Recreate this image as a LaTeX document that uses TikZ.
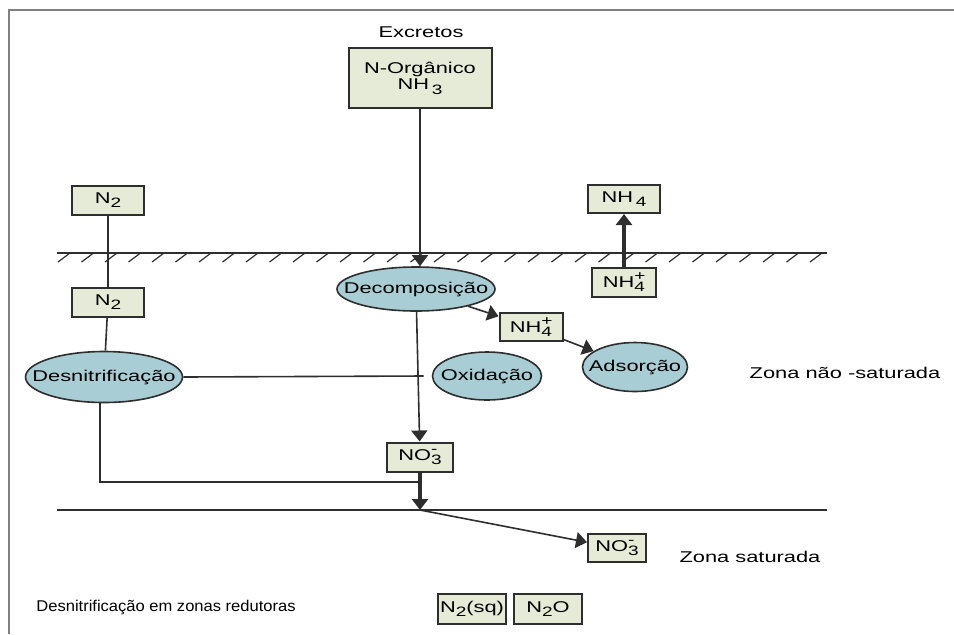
\documentclass[tikz,border=0pt]{standalone}
\usepackage{fontspec}
\setmainfont{Liberation Sans}[FakeStretch=1.4]
\newfontfamily\narrowsans{Liberation Sans}[FakeStretch=1.06]
\usetikzlibrary{arrows.meta,shapes.geometric}

\definecolor{boxfill}{HTML}{E5EBD7}
\definecolor{ellfill}{HTML}{A9CDD4}
\definecolor{edge}{HTML}{2E2E2E}

\newcommand\subfont{\fontsize{6.8}{7}\selectfont}
\newcommand\lowix[1]{\raisebox{-0.5ex}{\subfont #1}}
\newcommand\ionix[2]{\rlap{\raisebox{0.8ex}{\subfont #2}}\raisebox{-0.5ex}{\subfont #1}}

\tikzset{
  species/.style={draw=edge, line width=1pt, fill=boxfill, inner sep=0pt, minimum width=36pt, minimum height=14.5pt},
  process/.style={ellipse, draw=edge, line width=0.8pt, fill=ellfill, inner sep=0pt},
  flow/.style={draw=edge, line width=0.8pt},
  arr/.style={flow, -{Triangle[length=5.5pt,width=8pt]}},
  bigarr/.style={draw=edge, line width=1.7pt, -{Triangle[length=5.5pt,width=8pt]}},
}

\begin{document}
\begin{tikzpicture}[x=0.5pt, y=-0.5pt, font=\fontsize{7.8}{9.4}\selectfont]
\useasboundingbox (0,0) rectangle (954,634);

% frame
\draw[gray, line width=1pt] (9,634) -- (9,10) -- (954,10);

% soil surface and water table
\draw[flow] (57,253) -- (827,253);
\foreach \x in {58,81.5,...,815}
	\draw[flow, line width=0.6pt] (\x,262) -- ++(12,-9);
\draw[flow] (57,510) -- (827,510);

% labels
\node (excretos) at (421,32) {Excretos};
\node (zns) at (845,373) {Zona não -saturada};
\node (zs) at (750,557) {Zona saturada};
\node[font=\narrowsans\fontsize{7.8}{9.4}\selectfont] (redut) at (166,607) {Desnitrificação em zonas redutoras};

% species
\node[species, minimum width=71.5pt, minimum height=30pt, align=center] (org) at (420,78) {N-Orgânico\\[-1pt]NH\,\lowix{3}};
\node[species] (ntop) at (108,200) {N\lowix{2}};
\node[species] (nmid) at (108,302) {N\lowix{2}};
\node[species, minimum height=14pt] (nhtop) at (624,199) {NH\,\lowix{4}};
\node[species, minimum width=32pt] (nhup) at (624,282) {NH\ionix{4}{+}};
\node[species, minimum width=31.5pt, minimum height=14pt] (nhmid) at (531,327) {NH\ionix{4}{+}};
\node[species, minimum width=33pt] (nothree) at (420,457) {NO\ionix{3}{-}};
\node[species, minimum width=29pt, minimum height=14pt] (nolow) at (617,548) {NO\ionix{3}{-}};
\node[species, minimum width=34pt, minimum height=15pt] (nsq) at (472,609) {N\lowix{2}(sq)};
\node[species, minimum width=34pt, minimum height=15pt] (nno) at (548,609) {N\lowix{2}O};

% processes
\node[process, minimum width=78.5pt, minimum height=25.5pt] (desn) at (104,377) {\makebox[0pt]{Desnitrificação}};
\node[process, minimum width=79pt, minimum height=22pt] (decomp) at (416,289) {\makebox[0pt]{Decomposição}};
\node[process, minimum width=54.5pt, minimum height=24pt] (oxid) at (487,376) {\makebox[0pt]{Oxidação}};
\node[process, minimum width=52.5pt, minimum height=24.5pt] (adsor) at (635,367) {\makebox[0pt]{Adsorção}};

\coordinate (merge) at (420,482);
\coordinate (junc) at (420,510);

% connectors
\draw[arr] (org.south) -- (org.south |- decomp.north);
\draw[flow] (ntop) -- (nmid);
\draw[flow] (nmid) -- (desn);
\draw[flow] (desn.east) -- ([xshift=-4pt]oxid.west);
\draw[arr] (decomp) -- (nhmid);
\draw[arr] (nhmid) -- (adsor);
\draw[arr] (decomp) -- (nothree);
\draw[bigarr] (nhup) -- (nhtop);
\draw[flow] ([xshift=-2pt]desn.south) |- (merge);
\draw[bigarr] (nothree) -- (junc);
\draw[arr] (junc) -- (nolow);
\end{tikzpicture}
\end{document}
